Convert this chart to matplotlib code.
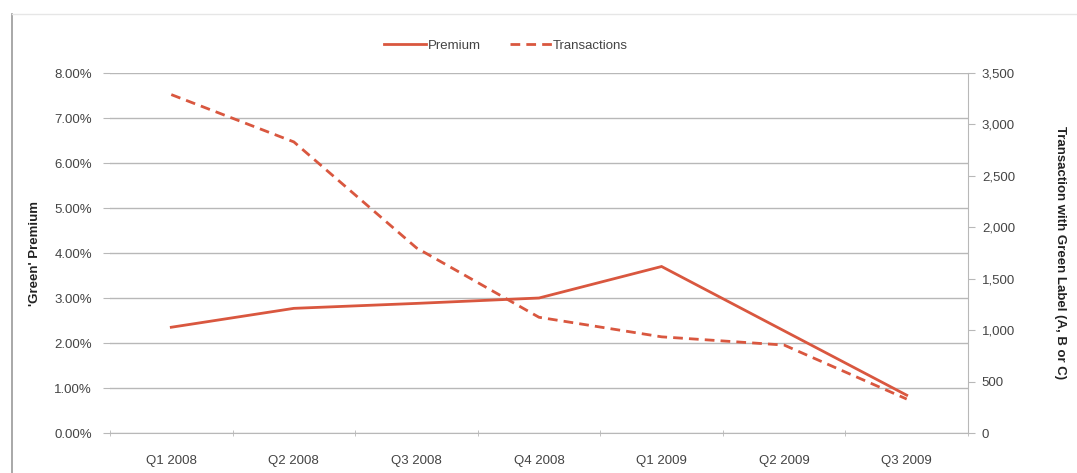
import matplotlib
matplotlib.use("Agg")
import matplotlib.pyplot as plt
from matplotlib.ticker import FuncFormatter, FixedLocator
from matplotlib.lines import Line2D

categories = ["Q1 2008", "Q2 2008", "Q3 2008", "Q4 2008", "Q1 2009", "Q2 2009", "Q3 2009"]
premium = [2.35, 2.77, 2.88, 3.00, 3.70, 2.27, 0.84]          # percent
transactions = [3290, 2830, 1800, 1125, 935, 855, 330]

left_ticks = [0, 1, 2, 3, 4, 5, 6, 7, 8]
right_ticks = [0, 500, 1000, 1500, 2000, 2500, 3000, 3500]

plt.rcParams['font.family'] = ['Liberation Sans Narrow', 'Liberation Sans', 'DejaVu Sans']

RED = "#d9573f"
GRID = "#b8b8b8"
TXT = "#444444"

fig = plt.figure(figsize=(10.77, 4.73), dpi=100)
ax = fig.add_axes([110/1077, 40/473, 858/1077, 360/473])
ax2 = ax.twinx()

x = list(range(len(categories)))
ax.plot(x, premium, color=RED, lw=2.0, solid_joinstyle='miter')
ax2.plot(x, transactions, color=RED, lw=2.0, dashes=(3.5, 2.2))

ax.set_xlim(-0.5, 6.5)
ax.set_ylim(0, 8)
ax2.set_ylim(0, 3500)

ax.set_yticks(left_ticks)
ax.yaxis.set_major_formatter(FuncFormatter(lambda v, p: f"{v:.2f}%"))
ax2.set_yticks(right_ticks)
ax2.yaxis.set_major_formatter(FuncFormatter(lambda v, p: f"{int(v):,}"))

ax.set_xticks(x)
ax.set_xticklabels(categories)
ax.xaxis.set_minor_locator(FixedLocator([i + 0.5 for i in range(-1, 7)]))
ax.tick_params(axis='x', which='major', length=0, pad=16, labelsize=9.5, labelcolor=TXT)
ax.tick_params(axis='x', which='minor', length=5, color=GRID, direction='inout')

ax.grid(axis='y', color=GRID, lw=1.0)
ax.set_axisbelow(True)
ax.tick_params(axis='y', length=5, color=GRID, labelsize=9.5, labelcolor=TXT, pad=8)
ax2.tick_params(axis='y', length=5, color=GRID, labelsize=9.5, labelcolor=TXT, pad=5)

for a in (ax, ax2):
    for s in ("top", "left"):
        a.spines[s].set_visible(False)
    a.spines["bottom"].set_color(GRID)
    a.spines["right"].set_color(GRID)
ax.spines["right"].set_visible(False)
ax2.spines["bottom"].set_visible(False)

ax.set_ylabel("'Green' Premium", fontsize=9.5, fontweight='bold', color="#222222")
ax.yaxis.set_label_coords(-0.08, 0.5)
ax2.set_ylabel("Transaction with Green Label (A, B or C)", fontsize=9.5, fontweight='bold',
               color="#222222", rotation=-90, va='center', ha='center')
ax2.yaxis.set_label_coords(1.107, 0.5)

handles = [Line2D([], [], color=RED, lw=2.0),
           Line2D([], [], color=RED, lw=2.0, dashes=(3.5, 2.2))]
fig.legend(handles, ["Premium", "Transactions"], loc='center', bbox_to_anchor=(0.47, 0.903),
           ncol=2, frameon=False, fontsize=9.5, handlelength=3.2, handletextpad=0.1,
           columnspacing=2.2, labelcolor=TXT)

# outer frame lines (left and top)
fig.add_artist(Line2D([12/1077, 12/1077], [0, 1 - 14/473], transform=fig.transFigure,
                      color="#999999", lw=1.2))
fig.add_artist(Line2D([12/1077, 1], [1 - 14/473, 1 - 14/473], transform=fig.transFigure,
                      color="#e6e6e6", lw=1.0))

fig.savefig("out.png", dpi=100)
